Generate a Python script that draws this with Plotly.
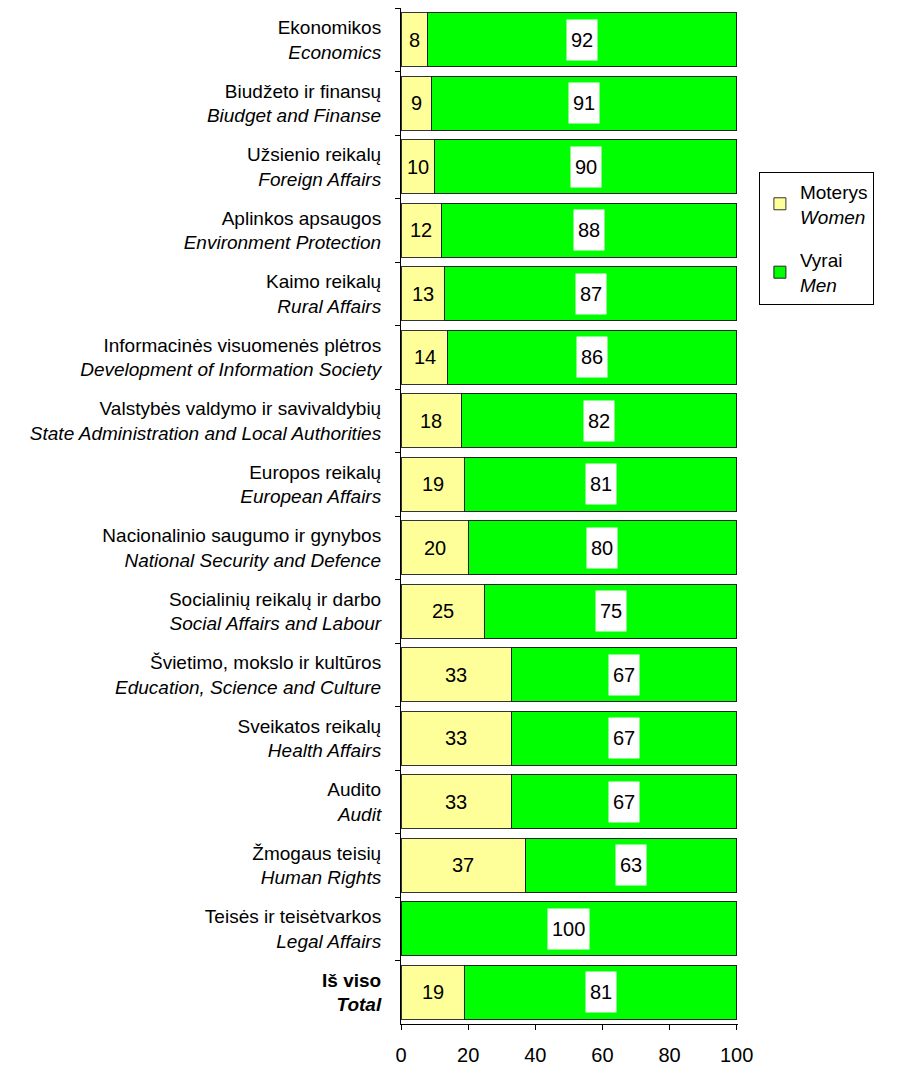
import plotly.graph_objects as go

categories_lt = ["Ekonomikos", "Biudžeto ir finansų", "Užsienio reikalų", "Aplinkos apsaugos",
                 "Kaimo reikalų", "Informacinės visuomenės plėtros",
                 "Valstybės valdymo ir savivaldybių", "Europos reikalų",
                 "Nacionalinio saugumo ir gynybos", "Socialinių reikalų ir darbo",
                 "Švietimo, mokslo ir kultūros", "Sveikatos reikalų", "Audito",
                 "Žmogaus teisių", "Teisės ir teisėtvarkos", "Iš viso"]
categories_en = ["Economics", "Biudget and Finanse", "Foreign Affairs", "Environment Protection",
                 "Rural Affairs", "Development of Information Society",
                 "State Administration and Local Authorities", "European Affairs",
                 "National Security and Defence", "Social Affairs and Labour",
                 "Education, Science and Culture", "Health Affairs", "Audit",
                 "Human Rights", "Legal Affairs", "Total"]
women = [8, 9, 10, 12, 13, 14, 18, 19, 20, 25, 33, 33, 33, 37, 0, 19]
men = [92, 91, 90, 88, 87, 86, 82, 81, 80, 75, 67, 67, 67, 63, 100, 81]
x_ticks = [0, 20, 40, 60, 80, 100]

labels = []
for lt, en in zip(categories_lt, categories_en):
    if lt == "Iš viso":
        labels.append(f"<b>{lt}</b><br><b><i>{en}</i></b>")
    else:
        labels.append(f"{lt}<br><i>{en}</i>")

YELLOW = "#FFFF99"
GREEN = "#00FF00"

fig = go.Figure()
fig.add_trace(go.Bar(y=labels, x=women, orientation="h", name="Moterys<br><i>Women</i>",
                     marker=dict(color=YELLOW, line=dict(color="#333333", width=1)),
                     legendgroup="w", hoverinfo="x"))
fig.add_trace(go.Bar(y=labels, x=men, orientation="h", name="Vyrai<br><i>Men</i>",
                     marker=dict(color=GREEN, line=dict(color="#222222", width=1)),
                     legendgroup="m", hoverinfo="x"))

annotations = []
for lab, w, m in zip(labels, women, men):
    if w > 0:
        annotations.append(dict(x=w / 2, y=lab, text=str(w), showarrow=False,
                                font=dict(size=20, color="black")))
    if m > 0:
        annotations.append(dict(x=w + m / 2, y=lab, text=str(m), showarrow=False,
                                font=dict(size=20, color="black"), bgcolor="white",
                                borderpad=4, height=32))

# page body has an 8px margin, so the figure is sized/margined to compensate
fig.update_layout(
    width=894, height=1058,
    margin=dict(l=393, r=164, t=0, b=42),
    paper_bgcolor="white", plot_bgcolor="white",
    barmode="stack", bargap=0.15,
    font=dict(family="Liberation Sans, Arial, sans-serif", color="black"),
    annotations=annotations,
    showlegend=True,
    legend=dict(x=1.062, y=0.839, xanchor="left", yanchor="top",
                bordercolor="black", borderwidth=1, bgcolor="white",
                font=dict(size=19), traceorder="grouped", tracegroupgap=16),
    xaxis=dict(range=[0, 100.4], tickvals=x_ticks, ticks="outside", ticklen=5,
               tickcolor="black", showline=True, linecolor="black", linewidth=1,
               showgrid=False, zeroline=False, tickfont=dict(size=20),
               ticklabelstandoff=8, automargin=False),
    yaxis=dict(autorange="reversed", tickson="boundaries", ticks="outside", ticklen=5,
               tickcolor="black", showline=True, linecolor="black", linewidth=1,
               showgrid=False, tickfont=dict(size=19), ticklabelstandoff=15,
               automargin=False),
)

fig.write_html("out.html")
